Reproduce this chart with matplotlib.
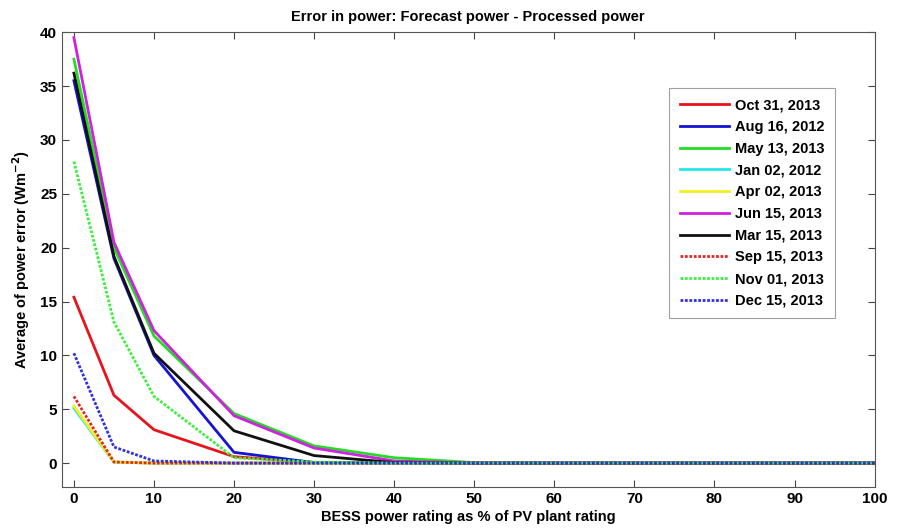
import matplotlib
matplotlib.use("Agg")
import matplotlib.pyplot as plt

plt.rcParams['font.family'] = ['Liberation Sans', 'DejaVu Sans']
plt.rcParams['font.weight'] = 'bold'

# BESS power rating (% of PV plant rating)
bess_pct = [0, 5, 10, 20, 30, 40, 50, 60, 70, 80, 90, 100]

# Average power error (W m^-2) per day
oct31_2013 = [15.4, 6.3, 3.1, 0.6, 0.05, 0, 0, 0, 0, 0, 0, 0]
aug16_2012 = [35.5, 19.0, 10.0, 1.0, 0.05, 0, 0, 0, 0, 0, 0, 0]
may13_2013 = [37.5, 20.0, 11.8, 4.6, 1.6, 0.5, 0.05, 0, 0, 0, 0, 0]
jan02_2012 = [5.1, 0.1, 0, 0, 0, 0, 0, 0, 0, 0, 0, 0]
apr02_2013 = [5.3, 0.1, 0, 0, 0, 0, 0, 0, 0, 0, 0, 0]
jun15_2013 = [39.5, 20.5, 12.3, 4.4, 1.4, 0.2, 0, 0, 0, 0, 0, 0]
mar15_2013 = [36.2, 19.2, 10.2, 3.0, 0.7, 0.05, 0, 0, 0, 0, 0, 0]
sep15_2013 = [6.2, 0.1, 0, 0, 0, 0, 0, 0, 0, 0, 0, 0]
nov01_2013 = [28.0, 13.1, 6.2, 0.5, 0.1, 0, 0, 0, 0, 0, 0, 0]
dec15_2013 = [10.2, 1.5, 0.2, 0, 0, 0, 0, 0, 0, 0, 0, 0]

dense_dot = (0, (1.0, 0.6))
series = [
    ("Oct 31, 2013", oct31_2013, "#e8141c", "-"),
    ("Aug 16, 2012", aug16_2012, "#1414d2", "-"),
    ("May 13, 2013", may13_2013, "#22dd22", "-"),
    ("Jan 02, 2012", jan02_2012, "#22e8e8", "-"),
    ("Apr 02, 2013", apr02_2013, "#f0f020", "-"),
    ("Jun 15, 2013", jun15_2013, "#d020e0", "-"),
    ("Mar 15, 2013", mar15_2013, "#111111", "-"),
    ("Sep 15, 2013", sep15_2013, "#e02828", dense_dot),
    ("Nov 01, 2013", nov01_2013, "#40ee40", dense_dot),
    ("Dec 15, 2013", dec15_2013, "#3030e0", dense_dot),
]

fig = plt.figure(figsize=(8.97, 5.28), dpi=100)
ax = fig.add_axes([0.069, 0.078, 0.906, 0.861])

for label, vals, color, ls in series:
    ax.plot(bess_pct, vals, color=color, linestyle=ls, linewidth=2, label=label)

ax.set_xlim(-1.5, 100)
ax.set_ylim(-2.2, 40)
ax.set_xticks(range(0, 101, 10))
ax.set_yticks(range(0, 41, 5))
ax.tick_params(direction='in', labelsize=11, length=5, top=True, right=True,
               labeltop=False, labelright=False, color='#444444')
for lbl in ax.get_xticklabels() + ax.get_yticklabels():
    lbl.set_fontweight('bold')
for sp in ax.spines.values():
    sp.set_color('#555555')
    sp.set_linewidth(0.8)

ax.set_title("Error in power: Forecast power - Processed power",
             fontsize=10.5, fontweight='bold', pad=8)
ax.set_xlabel("BESS power rating as % of PV plant rating",
              fontsize=10.5, fontweight='bold', labelpad=3)
ax.set_ylabel("Average of power error (Wm$^{\\mathbf{-2}}$)",
              fontsize=10.5, fontweight='bold', labelpad=6)

leg = ax.legend(loc='upper right', bbox_to_anchor=(0.951, 0.877),
                borderaxespad=0.0,
                fontsize=10.5, frameon=True, fancybox=False,
                handlelength=3.4, handletextpad=0.4, labelspacing=0.53,
                borderpad=0.7)
leg.get_frame().set_edgecolor('#888888')
leg.get_frame().set_linewidth(0.8)
for t in leg.get_texts():
    t.set_fontweight('bold')

fig.savefig("out.png", dpi=100)
